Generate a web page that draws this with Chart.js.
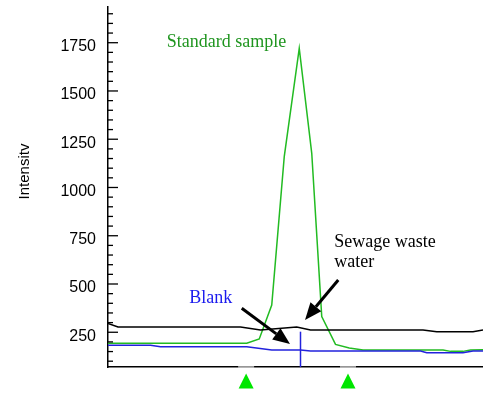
<!DOCTYPE html>
<html>
<head>
<meta charset="utf-8">
<script src="https://cdn.jsdelivr.net/npm/chart.js@4.4.1/dist/chart.umd.min.js"></script>
<style>
  html, body { margin: 0; padding: 0; background: #fff; }
</style>
</head>
<body>
<canvas id="chart_peak" width="483" height="397"></canvas>
<script>
const standardX = [0, 11.1, 12.1, 13.1, 14.1, 15.3, 16.3, 17.1, 18.2, 19.3, 20.4, 26.8, 27.4, 28.4, 29.0, 30];
const standardY = [193, 193, 215, 391, 1160, 1721, 1177, 331, 187, 169, 158, 158, 151, 151, 158, 160];

const sewageX = [0, 0.8, 10.6, 12.2, 15.1, 16.2, 25.2, 26.3, 29.2, 30];
const sewageY = [296, 277, 277, 262, 277, 262, 262, 253, 253, 262];

const blankX = [0, 3.4, 4.2, 11.1, 13.1, 15.4, 16.2, 25.0, 25.5, 28.4, 29.2, 30];
const blankY = [183, 183, 175, 175, 158, 158, 153, 153, 144, 144, 153, 153];

// Marca vertical del blanco
const blankMarkX = [15.4, 15.4];
const blankMarkY = [70, 253];

// Marcadores (triángulos) bajo el eje x
const peakLimits = [11.05, 19.2];

// Etiquetas del eje y
const yTickValues = [250, 500, 750, 1000, 1250, 1500, 1750];

const toPoints = (xs, ys) => xs.map((v, i) => ({ x: v, y: ys[i] }));

// Dibuja flecha con punta rellena
function drawArrow(ctx, x1, y1, x2, y2) {
    const ang = Math.atan2(y2 - y1, x2 - x1);
    const headLen = 17, headW = 7;
    const bx = x2 - headLen * Math.cos(ang), by = y2 - headLen * Math.sin(ang);
    ctx.lineWidth = 3;
    ctx.beginPath();
    ctx.moveTo(x1, y1);
    ctx.lineTo(bx, by);
    ctx.stroke();
    ctx.beginPath();
    ctx.moveTo(x2, y2);
    ctx.lineTo(bx + headW * Math.sin(ang), by - headW * Math.cos(ang));
    ctx.lineTo(bx - headW * Math.sin(ang), by + headW * Math.cos(ang));
    ctx.closePath();
    ctx.fill();
}

const extrasPlugin = {
    id: 'extras',
    afterDraw(chart) {
        const ctx = chart.ctx;
        const area = chart.chartArea;
        const x = chart.scales.x;
        const y = chart.scales.y;
        ctx.save();

        // Ticks interiores del eje y (mayores cada 250, menores cada 50)
        ctx.strokeStyle = '#000';
        ctx.lineWidth = 1.3;
        for (let v = 100; v <= 1900; v += 50) {
            const py = y.getPixelForValue(v);
            const len = (v % 250 === 0) ? 10 : 5;
            ctx.beginPath();
            ctx.moveTo(area.left, py);
            ctx.lineTo(area.left + len, py);
            ctx.stroke();
        }

        // Título del eje y
        ctx.save();
        ctx.translate(25, 171.5);
        ctx.rotate(-Math.PI / 2);
        ctx.fillStyle = '#000';
        ctx.font = '15px "Liberation Sans", Arial, sans-serif';
        ctx.textAlign = 'center';
        ctx.textBaseline = 'middle';
        ctx.fillText('Intensitv', 0, 0);
        ctx.restore();

        // Textos de las series
        ctx.font = '18px "Liberation Serif", "Times New Roman", serif';
        ctx.textAlign = 'left';
        ctx.textBaseline = 'alphabetic';
        ctx.fillStyle = '#1f951f';
        ctx.fillText('Standard sample', x.getPixelForValue(4.7), y.getPixelForValue(1730));
        ctx.fillStyle = '#000';
        ctx.fillText('Sewage waste', x.getPixelForValue(18.1), y.getPixelForValue(690));
        ctx.fillText('water', x.getPixelForValue(18.1), y.getPixelForValue(587));
        ctx.fillStyle = '#1a1aee';
        ctx.fillText('Blank', x.getPixelForValue(6.5), y.getPixelForValue(400));

        // Flechas
        ctx.strokeStyle = '#000';
        ctx.fillStyle = '#000';
        drawArrow(ctx, x.getPixelForValue(10.7), y.getPixelForValue(374), x.getPixelForValue(14.56), y.getPixelForValue(189));
        drawArrow(ctx, x.getPixelForValue(18.42), y.getPixelForValue(521), x.getPixelForValue(15.76), y.getPixelForValue(314));

        // Triángulos bajo el eje x
        const b = area.bottom;
        peakLimits.forEach(v => {
            const px = x.getPixelForValue(v);
            ctx.strokeStyle = '#c8c8c8';
            ctx.lineWidth = 1.5;
            ctx.beginPath();
            ctx.moveTo(px - 8, b);
            ctx.lineTo(px + 8, b);
            ctx.stroke();
            ctx.fillStyle = '#00e600';
            ctx.beginPath();
            ctx.moveTo(px, b + 6.5);
            ctx.lineTo(px + 7.5, b + 21.5);
            ctx.lineTo(px - 7.5, b + 21.5);
            ctx.closePath();
            ctx.fill();
        });

        ctx.restore();
    }
};

const peakCtx = document.getElementById('chart_peak').getContext('2d');

const chartPeak = new Chart(peakCtx, {
    type: 'line',
    data: {
        datasets: [{
            label: 'Blank',
            data: toPoints(blankX, blankY),
            borderColor: '#2222dd',
            borderWidth: 1.5
        }, {
            label: 'Blank marker',
            data: toPoints(blankMarkX, blankMarkY),
            borderColor: '#2222dd',
            borderWidth: 1.5
        }, {
            label: 'Sewage waste water',
            data: toPoints(sewageX, sewageY),
            borderColor: '#000000',
            borderWidth: 1.5
        }, {
            label: 'Standard sample',
            data: toPoints(standardX, standardY),
            borderColor: '#22bb22',
            borderWidth: 1.5
        }]
    },
    options: {
        responsive: false,
        animation: false,
        devicePixelRatio: 1,
        layout: { padding: { top: 7, right: 0, bottom: 0, left: 0 } },
        elements: { point: { radius: 0 }, line: { tension: 0, fill: false } },
        plugins: { legend: { display: false }, tooltip: { enabled: false } },
        scales: {
            x: {
                type: 'linear',
                min: 0,
                max: 30,
                ticks: { display: false },
                grid: { display: false, drawTicks: false },
                border: { color: '#000', width: 1.5 },
                afterFit(s) { s.height = 30; s.paddingLeft = 0; s.paddingRight = 0; }
            },
            y: {
                min: 70,
                max: 1935,
                afterBuildTicks(s) { s.ticks = yTickValues.map(v => ({ value: v })); },
                ticks: {
                    color: '#000',
                    font: { family: '"Liberation Sans", Arial, sans-serif', size: 16 },
                    padding: 12,
                    labelOffset: 4,
                    callback: v => String(v)
                },
                grid: { display: false, drawTicks: false },
                border: { color: '#000', width: 1.5 },
                afterFit(s) { s.width = 108; s.paddingTop = 0; s.paddingBottom = 0; }
            }
        }
    },
    plugins: [extrasPlugin]
});
</script>
</body>
</html>
